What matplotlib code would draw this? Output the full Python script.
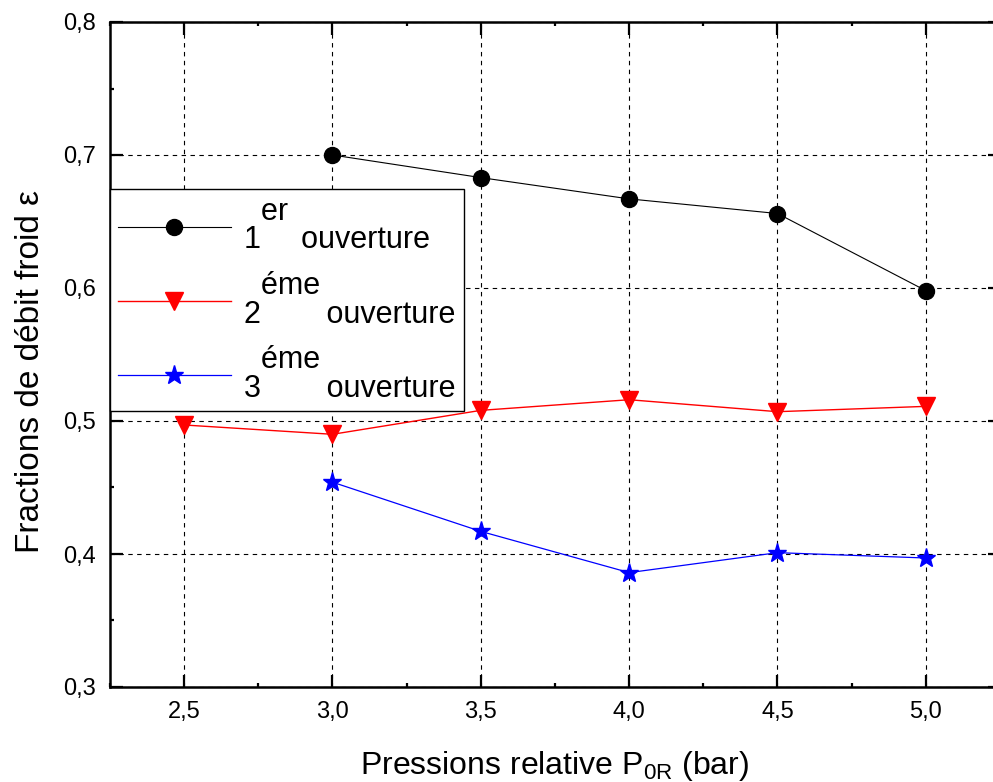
import numpy as np
import matplotlib
matplotlib.use("Agg")
import matplotlib.pyplot as plt
from matplotlib.ticker import MultipleLocator, FuncFormatter

plt.rcParams['font.family'] = ['Liberation Sans', 'DejaVu Sans']
plt.rcParams['mathtext.fontset'] = 'custom'
plt.rcParams['mathtext.rm'] = 'Liberation Sans'
plt.rcParams['mathtext.it'] = 'Liberation Sans:italic'

# data
p1 = [3.0, 3.5, 4.0, 4.5, 5.0]
eps1 = [0.700, 0.683, 0.667, 0.656, 0.598]
p2 = [2.5, 3.0, 3.5, 4.0, 4.5, 5.0]
eps2 = [0.497, 0.490, 0.508, 0.516, 0.507, 0.511]
p3 = [3.0, 3.5, 4.0, 4.5, 5.0]
eps3 = [0.454, 0.417, 0.386, 0.401, 0.397]
# Origin-style labels: superscript sits a full line above the number
labels = ['  er\n1    \u2009ouverture',
          '  éme\n2       \u2009ouverture',
          '  éme\n3       \u2009ouverture']

W, H = 993, 782
fig = plt.figure(figsize=(W / 100, H / 100), dpi=100)
ax = fig.add_axes([110 / W, 95 / H, 890 / W, 665 / H])

ax.plot(p1, eps1, '-o', color='black', lw=0.8, ms=11.5, label=labels[0], zorder=3)
ax.plot(p2, eps2, '-v', color='red', lw=1.0, ms=13, label=labels[1], zorder=3)
ax.plot(p3, eps3, '-*', color='blue', lw=0.9, ms=14, label=labels[2], zorder=3)

ax.set_xlim(2.25, 5.25)
ax.set_ylim(0.3, 0.8)
ax.xaxis.set_major_locator(MultipleLocator(0.5))
ax.xaxis.set_minor_locator(MultipleLocator(0.25))
ax.yaxis.set_major_locator(MultipleLocator(0.1))
ax.yaxis.set_minor_locator(MultipleLocator(0.05))
fmt = FuncFormatter(lambda v, pos: f'{v:.1f}'.replace('.', ','))
ax.xaxis.set_major_formatter(fmt)
ax.yaxis.set_major_formatter(fmt)

ax.tick_params(which='both', direction='in', top=True, right=True, width=1.6)
ax.tick_params(which='major', length=9, labelsize=17, pad=10)
ax.tick_params(which='minor', length=3)
for s in ax.spines.values():
    s.set_linewidth(1.8)

ax.grid(True, which='major', color='black', lw=0.8, ls=(0, (4, 4)), zorder=0)
ax.set_axisbelow(True)

ax.set_xlabel(r'Pressions relative P$_{\mathregular{0R}}$ (bar)', fontsize=23, labelpad=19)
ax.set_ylabel('Fractions de débit froid ε', fontsize=24)
ax.yaxis.set_label_coords(-0.072, 0.474)

leg = ax.legend(loc='upper left', bbox_to_anchor=(0.0, 0.749), fontsize=22,
                frameon=True, fancybox=False, framealpha=1, edgecolor='black',
                borderaxespad=0, handlelength=3.7, labelspacing=0.5,
                handletextpad=0.45, borderpad=0.25)
leg.get_frame().set_linewidth(1.0)
leg.set_zorder(5)
for t in leg.get_texts():
    t.set_linespacing(0.95)

fig.savefig('out.png', dpi=100)
